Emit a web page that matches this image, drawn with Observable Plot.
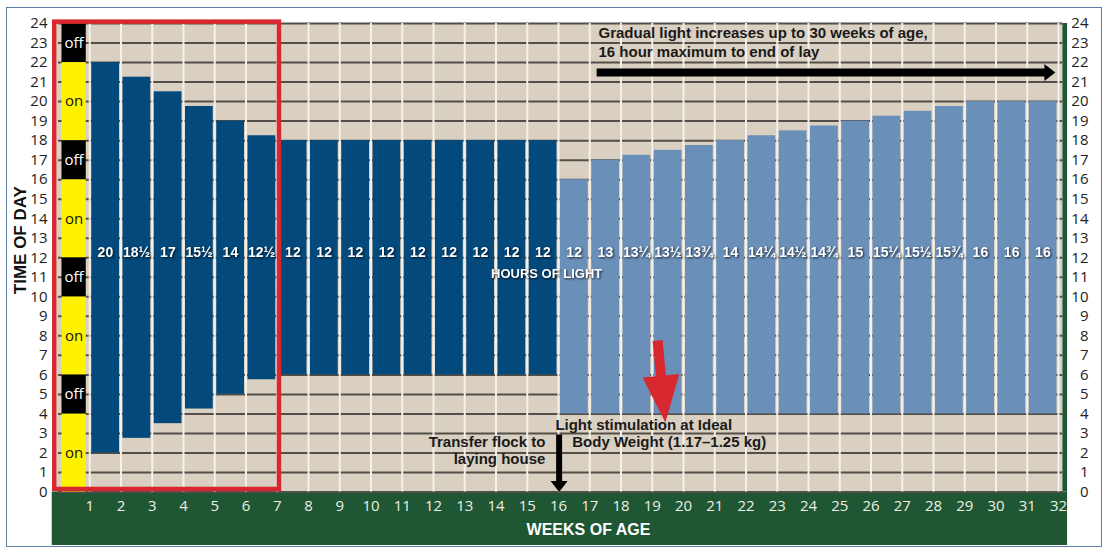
<!DOCTYPE html>
<html><head><meta charset="utf-8">
<script src="https://cdn.jsdelivr.net/npm/d3@7"></script>
<script src="https://cdn.jsdelivr.net/npm/@observablehq/plot@0.6"></script>
<style>
body{margin:0;background:#fff;}
#wrap{position:relative;width:1109px;height:557px;}
#border{position:absolute;left:6px;top:7px;width:1096px;height:540px;border:1.5px solid #5d7fa6;box-sizing:border-box;pointer-events:none}
.shadow text{filter:drop-shadow(1px 1px 1px rgba(0,0,0,0.75));}
</style></head><body><div id="wrap"><div id="chart"></div><div id="border"></div></div>
<script>
// ---- data ----
const weekTicks = [1,2,3,4,5,6,7,8,9,10,11,12,13,14,15,16,17,18,19,20,21,22,23,24,25,26,27,28,29,30,31,32];
const hourTicks = [0,1,2,3,4,5,6,7,8,9,10,11,12,13,14,15,16,17,18,19,20,21,22,23,24];
const barWeeks = [1,2,3,4,5,6,7,8,9,10,11,12,13,14,15,16,17,18,19,20,21,22,23,24,25,26,27,28,29,30,31];
const lightsOn  = [2,2.75,3.5,4.25,5,5.75,6,6,6,6,6,6,6,6,6,4,4,4,4,4,4,4,4,4,4,4,4,4,4,4,4];
const lightsOff = [22,21.25,20.5,19.75,19,18.25,18,18,18,18,18,18,18,18,18,16,17,17.25,17.5,17.75,18,18.25,18.5,18.75,19,19.25,19.5,19.75,20,20,20];
const hourLabels = ["20","18½","17","15½","14","12½","12","12","12","12","12","12","12","12","12","12","13","13¼","13½","13¾","14","14¼","14½","14¾","15","15¼","15½","15¾","16","16","16"];
const stage = ["rear","rear","rear","rear","rear","rear","rear","rear","rear","rear","rear","rear","rear","rear","rear",
  "lay","lay","lay","lay","lay","lay","lay","lay","lay","lay","lay","lay","lay","lay","lay","lay"];
const stripStart = [0,4,6,10,12,16,18,22];
const stripEnd   = [4,6,10,12,16,18,22,24];
const stripState = ["on","off","on","off","on","off","on","off"];

const bars = barWeeks.map((w,i)=>({week:w, on:lightsOn[i], off:lightsOff[i], label:hourLabels[i], stage:stage[i]}));
const strip = stripStart.map((s,i)=>({s, e:stripEnd[i], state:stripState[i]}));

// ---- layout ----
const W=1109, H=557, ML=58, MR=51, MT=23, MB=65.5;
const KX=(W-ML-MR)/32, KY=(H-MT-MB)/24;
const px=x=>ML+x*KX, py=y=>H-MB-y*KY, dx=p=>(p-ML)/KX, dy=p=>(H-MB-p)/KY;
function arrowPoly(x1,y1,x2,y2,stem,headW,headL){
  const X1=px(x1),Y1=py(y1),X2=px(x2),Y2=py(y2);
  const L=Math.hypot(X2-X1,Y2-Y1), ux=(X2-X1)/L, uy=(Y2-Y1)/L, nx=-uy, ny=ux;
  const bx=X2-ux*headL, by=Y2-uy*headL;
  const pts=[[X1+nx*stem/2,Y1+ny*stem/2],[bx+nx*stem/2,by+ny*stem/2],[bx+nx*headW/2,by+ny*headW/2],[X2,Y2],
    [bx-nx*headW/2,by-ny*headW/2],[bx-nx*stem/2,by-ny*stem/2],[X1-nx*stem/2,Y1-ny*stem/2],[X1+nx*stem/2,Y1+ny*stem/2]];
  return pts.map(([a,b])=>({x:dx(a),y:dy(b)}));
}
const TAN="#d9d0c2", DARK="#03497c", LIGHT="#6a8fb9", GREEN="#1f5633", RED="#d7282f";
const NARROW="'Liberation Sans Narrow','Arial Narrow','Liberation Sans',sans-serif";

const chart = Plot.plot({
  width:W, height:H, marginLeft:ML, marginRight:MR, marginTop:MT, marginBottom:MB,
  style:{fontFamily:"'Open Sans',sans-serif", background:"transparent"},
  x:{type:"linear", domain:[0,32]},
  y:{domain:[0,24]},
  marks:[
    Plot.rect([0],{x1:-0.05,x2:32.14,y1:0,y2:24,fill:TAN}),
    Plot.rect([0],{x1:-0.2,x2:32.29,y1:-2.74,y2:0,fill:GREEN}),
    Plot.rect([0],{x1:32.14,x2:32.29,y1:0,y2:24,fill:GREEN}),
    Plot.ruleY(hourTicks,{x1:0,x2:32.14,stroke:"#534f48",strokeWidth:2}),
    Plot.ruleX(weekTicks,{y1:0,y2:24,stroke:"#f5f1ea",strokeWidth:2}),
    Plot.rect(strip,{x1:0,x2:1,y1:"s",y2:"e",fill:d=>d.state==="on"?"#fff200":"#000",insetLeft:3.5,insetRight:3.5}),
    Plot.text(strip,{x:0.5,y:d=>(d.s+d.e)/2,text:"state",fill:d=>d.state==="on"?"#111":"#fff",fontSize:15}),
    Plot.rect(bars,{x1:"week",x2:d=>d.week+1,y1:"on",y2:"off",fill:d=>d.stage==="rear"?DARK:LIGHT,insetLeft:2,insetRight:1.5}),
    Plot.text(bars,{x:d=>d.week+0.5,y:12.28,text:"label",fill:"#fff",fontWeight:"bold",fontSize:14,fontFamily:NARROW,className:"shadow"}),
    Plot.text(["HOURS OF LIGHT"],{x:15.62,y:11.2,text:d=>d,fill:"#fff",fontWeight:"bold",fontSize:13,fontFamily:NARROW,className:"shadow"}),
    Plot.rect([0],{x1:-0.12,x2:7.07,y1:0.13,y2:24.07,fill:"none",stroke:RED,strokeWidth:4.5}),
    // annotations
    Plot.line(arrowPoly(17.22,21.49,31.9,21.49,8,17,11),{x:"x",y:"y",fill:"#000",stroke:"none"}),
    Plot.line(arrowPoly(16.02,2.95,16.02,0,6,17,11),{x:"x",y:"y",fill:"#000",stroke:"none"}),
    Plot.line(arrowPoly(19.17,7.76,19.42,3.56,10,37,47),{x:"x",y:"y",fill:RED,stroke:"none"}),
    Plot.text(["Gradual light increases up to 30 weeks of age,","16 hour maximum to end of lay"],{x:17.28,y:(d,i)=>[23.49,22.52][i],text:d=>d,textAnchor:"start",fontWeight:"bold",fontSize:15,fontFamily:NARROW,fill:"#1a1a1a"}),
    Plot.text(["Light stimulation at Ideal","Body Weight (1.17–1.25 kg)"],{x:(d,i)=>[15.9,16.44][i],y:(d,i)=>[3.41,2.55][i],text:d=>d,textAnchor:"start",fontWeight:"bold",fontSize:15,fontFamily:NARROW,fill:"#1a1a1a"}),
    Plot.text(["Transfer flock to","laying house"],{x:15.58,y:(d,i)=>[2.55,1.70][i],text:d=>d,textAnchor:"end",fontWeight:"bold",fontSize:15,fontFamily:NARROW,fill:"#1a1a1a"}),
    Plot.text(["WEEKS OF AGE"],{x:16.96,y:-1.92,text:d=>d,fill:"#fff",fontWeight:"bold",fontSize:16,fontFamily:NARROW}),
    Plot.text(["TIME OF DAY"],{x:-1.22,y:12.9,text:d=>d,rotate:-90,fill:"#111",fontWeight:"bold",fontSize:17,fontFamily:NARROW}),
    Plot.axisY(hourTicks,{anchor:"left",tickSize:0,tickPadding:11,fontSize:15,fill:"#222",label:null}),
    Plot.axisY(hourTicks,{anchor:"right",tickSize:0,tickPadding:30,textAnchor:"end",fontSize:15,fill:"#222",label:null}),
    Plot.axisX(weekTicks,{anchor:"bottom",tickSize:0,tickPadding:8,fontSize:15,fill:"#eeeee4",label:null})
  ]
});
document.getElementById("chart").appendChild(chart);
</script></body></html>
